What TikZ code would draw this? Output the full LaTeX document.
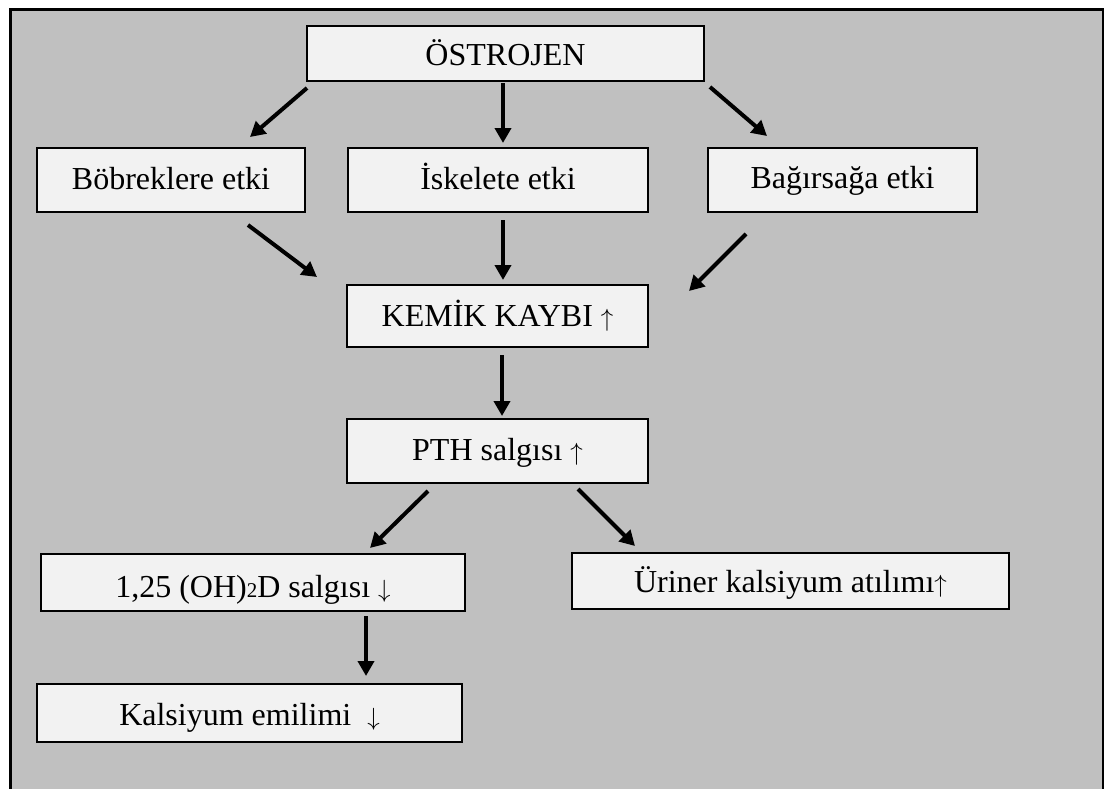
\documentclass[tikz,border=0pt]{standalone}
\usepackage{fontspec}
\setmainfont{Liberation Serif}
\usetikzlibrary{arrows.meta}
\definecolor{bggray}{RGB}{192,192,192}
\definecolor{boxfill}{RGB}{242,242,242}
\newcommand{\upar}{$\uparrow$}
\newcommand{\downar}{$\downarrow$}
\tikzset{
  box/.style={draw=black, line width=2pt, fill=boxfill, inner sep=0pt,
    text depth=8pt, font=\fontsize{32}{38}\selectfont},
  arr/.style={line width=4pt, -{Triangle[length=15pt,width=16pt]}},
}
\begin{document}
\begin{tikzpicture}[x=1pt,y=-1pt]
\useasboundingbox (0,0) rectangle (1104,788);
\fill[white] (0,0) rectangle (1104,788);
\begin{scope}
\clip (0,0) rectangle (1104,788);
\draw[line width=3pt, fill=bggray] (10.5,9.5) rectangle (1103,800);
\end{scope}
\node[box, minimum width=397, minimum height=55, text height=31pt] (o) at (505.5,53.5) {ÖSTROJEN};
\node[box, minimum width=268, minimum height=64, text height=26pt] (b1) at (171,180) {Böbreklere etki};
\node[box, minimum width=300, minimum height=64, text height=26pt] (b2) at (498,180) {İskelete etki};
\node[box, minimum width=269, minimum height=64, text height=24pt] (b3) at (842.5,180) {Bağırsağa etki};
\node[box, minimum width=301, minimum height=62, text height=28pt] (k) at (497.5,316) {KEMİK KAYBI \upar};
\node[box, minimum width=301, minimum height=64, text height=26pt] (p) at (497.5,451) {PTH salgısı \upar};
\node[box, minimum width=424, minimum height=57, text height=37pt] (d) at (253,582.5) {1,25 (OH){\fontsize{21}{21}\selectfont 2}D salgısı \downar};
\node[box, minimum width=425, minimum height=58, text height=32pt] (c) at (249.5,713) {Kalsiyum emilimi \ \downar};
\node[box, minimum width=437, minimum height=56, text height=30pt] (u) at (790.5,581) {Üriner kalsiyum atılımı\upar};
\draw[arr] ([shift={(1,6)}]o.south west) -- ([shift={(-56,-10)}]b1.north east);
\draw[arr] ([shift={(-2.5,1)}]o.south) -- ([shift={(5,-4)}]b2.north);
\draw[arr] ([shift={(5,5)}]o.south east) -- ([shift={(60,-11)}]b3.north west);
\draw[arr] ([shift={(77,12)}]b1.south) -- ([shift={(-29,-7)}]k.north west);
\draw[arr] ([shift={(5,7)}]b2.south) -- ([shift={(5.5,-4)}]k.north);
\draw[arr] ([shift={(39,21)}]b3.south west) -- ([shift={(40,7)}]k.north east);
\draw[arr] ([shift={(4.5,7)}]k.south) -- ([shift={(4.5,-2)}]p.north);
\draw[arr] ([shift={(-69.5,7)}]p.south) -- ([shift={(117,-5)}]d.north);
\draw[arr] ([shift={(80.5,5)}]p.south) -- ([shift={(64,-6)}]u.north west);
\draw[arr] ([shift={(113,4)}]d.south) -- ([shift={(116.5,-7)}]c.north);
\end{tikzpicture}
\end{document}
